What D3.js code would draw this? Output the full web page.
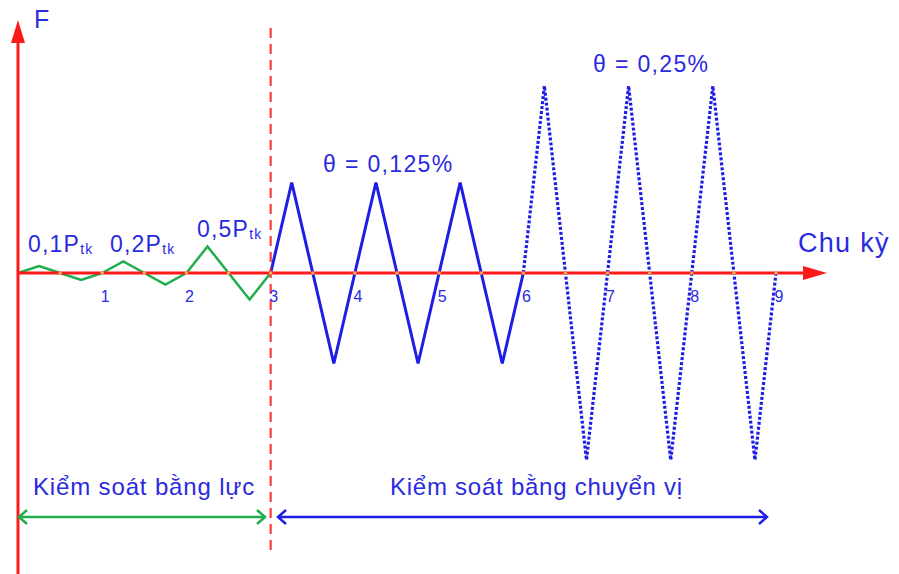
<!DOCTYPE html>
<html>
<head>
<meta charset="utf-8">
<script src="https://cdn.jsdelivr.net/npm/d3@7"></script>
<style>
  body { margin: 0; background: #fff; }
  text { font-family: "Liberation Sans", Arial, sans-serif; fill: #2a2ae0; }
</style>
</head>
<body>
<div id="chart-area"></div>
<script>
// chu ky (cycles) and force amplitudes, relative to the largest one
var cycles = [1, 2, 3, 4, 5, 6, 7, 8, 9];
var amplitudes = [0.037, 0.062, 0.142, 0.484, 0.484, 0.484, 1, 1, 1];
var phases = ["luc", "luc", "luc", "cv1", "cv1", "cv1", "cv2", "cv2", "cv2"];
var loadLabels = ["0,1P", "0,2P", "0,5P"];
var thetaLabels = ["θ = 0,125%", "θ = 0,25%"];
var zoneLabels = ["Kiểm soát bằng lực", "Kiểm soát bằng chuyển vị"];

var W = 899, H = 574;
var blue = "#1d1de8", green = "#1fae4b", red = "#ff1a1a";

var svg = d3.select("#chart-area").append("svg").attr("width", W).attr("height", H);

var x = d3.scaleLinear().domain([0, 9]).range([18, 776]);
var y = d3.scaleLinear().domain([-1, 1]).range([460, 86]);

// build one triangle wave per cycle
var segs = cycles.map((c, i) => {
  var a = amplitudes[i], s = c - 1;
  return {
    phase: phases[i],
    pts: [[s, 0], [s + 0.25, a], [s + 0.5, 0], [s + 0.75, -a], [s + 1, 0]]
  };
});
var line = d3.line().x((d) => x(d[0])).y((d) => y(d[1]));

var styleOf = {
  luc: {stroke: green, width: 2.5, dash: null},
  cv1: {stroke: blue, width: 3, dash: null},
  cv2: {stroke: blue, width: 3.2, dash: "3,2"}
};

svg.selectAll("path.wave").data(segs).enter()
  .append("path")
  .attr("class", "wave")
  .attr("d", (d) => line(d.pts))
  .attr("fill", "none")
  .attr("stroke", (d) => styleOf[d.phase].stroke)
  .attr("stroke-width", (d) => styleOf[d.phase].width)
  .attr("stroke-dasharray", (d) => styleOf[d.phase].dash)
  .attr("stroke-linejoin", "miter");

// red dashed separator at cycle 3
svg.append("line")
  .attr("x1", x(3)).attr("x2", x(3))
  .attr("y1", 28).attr("y2", 553)
  .attr("stroke", red).attr("stroke-width", 2.2)
  .attr("stroke-dasharray", "10,6")
  .attr("opacity", 0.85);

// axes
svg.append("line")
  .attr("x1", x(0)).attr("x2", 806)
  .attr("y1", y(0)).attr("y2", y(0))
  .attr("stroke", red).attr("stroke-width", 3);
svg.append("path")
  .attr("d", "M803," + (y(0) - 7) + "L827," + y(0) + "L803," + (y(0) + 7) + "Z")
  .attr("fill", red);
svg.append("line")
  .attr("x1", x(0)).attr("x2", x(0))
  .attr("y1", 574).attr("y2", 40)
  .attr("stroke", red).attr("stroke-width", 3);
svg.append("path")
  .attr("d", "M" + (x(0) - 7) + ",43L" + x(0) + ",20L" + (x(0) + 7) + ",43Z")
  .attr("fill", red);

// small dots at zero crossings
var crossings = d3.range(1, 19).map((k) => k / 2);
svg.selectAll("circle.z").data(crossings).enter()
  .append("circle")
  .attr("cx", (d) => x(d)).attr("cy", y(0))
  .attr("r", 1.8)
  .attr("fill", "#e8b060");

// tick labels
svg.selectAll("text.tick").data(cycles).enter()
  .append("text")
  .attr("x", (d) => x(d) + 3)
  .attr("y", 302)
  .attr("text-anchor", "middle")
  .attr("font-size", 16)
  .text((d) => d);

// axis titles
svg.append("text").attr("x", 34).attr("y", 28).attr("font-size", 25).text("F");
svg.append("text").attr("x", 798).attr("y", 252).attr("font-size", 27)
  .attr("letter-spacing", 1.3).text("Chu kỳ");

// load level labels
var loadPos = [[28, 252], [110, 252], [197, 237]];
loadLabels.forEach((t, i) => {
  var tx = svg.append("text").attr("x", loadPos[i][0]).attr("y", loadPos[i][1])
    .attr("font-size", 23).attr("letter-spacing", 1.2);
  tx.append("tspan").text(t);
  tx.append("tspan").attr("font-size", 14).attr("dy", 2).text("tk");
});

// drift labels
var thetaPos = [[323, 172], [593, 72]];
thetaLabels.forEach((t, i) => {
  svg.append("text").attr("x", thetaPos[i][0]).attr("y", thetaPos[i][1])
    .attr("font-size", 23).attr("letter-spacing", 1.35).text(t);
});

// control zone labels and arrows
svg.append("text").attr("x", 33).attr("y", 495).attr("font-size", 24)
  .attr("letter-spacing", 0.85).text(zoneLabels[0]);
svg.append("text").attr("x", 390).attr("y", 495).attr("font-size", 24)
  .attr("letter-spacing", 0.75).text(zoneLabels[1]);

function dblArrow(x1, x2, yy, col) {
  svg.append("line").attr("x1", x1).attr("x2", x2).attr("y1", yy).attr("y2", yy)
    .attr("stroke", col).attr("stroke-width", 2.5);
  [[x1, 1], [x2, -1]].forEach((h) => {
    svg.append("path")
      .attr("d", "M" + (h[0] + h[1] * 8) + "," + (yy - 7) + "L" + h[0] + "," + yy + "L" + (h[0] + h[1] * 8) + "," + (yy + 7))
      .attr("fill", "none").attr("stroke", col).attr("stroke-width", 2.5);
  });
}
dblArrow(x(0) + 1, 265, 517, green);
dblArrow(278, 767, 517, blue);
</script>
</body>
</html>
